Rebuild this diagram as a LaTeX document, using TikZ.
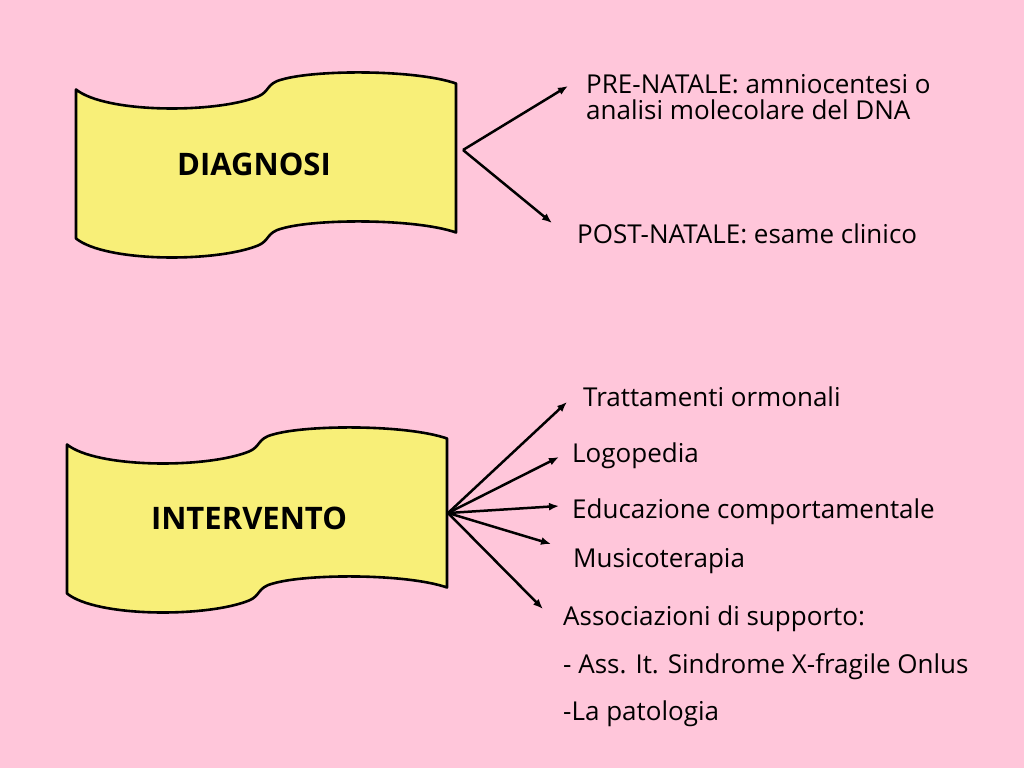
\documentclass[tikz,border=0pt]{standalone}
\usepackage{fontspec}
\setmainfont{Open Sans}
\usepackage{xcolor}
\definecolor{slidepink}{HTML}{FFC6DA}
\definecolor{banneryellow}{HTML}{F8EF78}
\usetikzlibrary{arrows.meta,positioning}

\begin{document}
\begin{tikzpicture}[x=1pt,y=-1pt,
      bannerline/.style={draw, line width=2.6pt, fill=banneryellow, line join=round},
      wavebanner/.pic={
        \path[bannerline] (-190,-72) .. controls (-160,-48) and (-50,-48) .. (-8,-65)
          .. controls (4,-70) and (0,-78) .. (16,-82)
          .. controls (50,-92) and (150,-92) .. (190,-78) -- (190,71)
          .. controls (150,57) and (50,57) .. (16,67)
          .. controls (0,71) and (4,79) .. (-8,84)
          .. controls (-50,101) and (-160,101) .. (-190,77) -- cycle;
      },
      title/.style={anchor=base, inner sep=0pt, font=\fontsize{31}{34}\selectfont\bfseries},
      lbl/.style={anchor=base west, inner sep=0pt, align=left, font=\fontsize{26}{26}\selectfont},
      arr/.style={line width=2.5pt, -{Latex[length=10pt,width=8pt]}}
    ]
    \fill[slidepink] (0,0) rectangle (1024,768);
    \useasboundingbox (0,0) rectangle (1024,768);
    % upper banner
    \pic at (266,161.5) {wavebanner};
    \node[title] (diag) at (254,175) {DIAGNOSI};
    \node[lbl] (pre) at (586,119) {PRE-NATALE: amniocentesi o\\analisi molecolare del DNA};
    \node[lbl] (post) at (577,243) {POST-NATALE: esame clinico};
    \coordinate (dsplit) at (463,150);
    \coordinate (pretip) at (568,86);
    \coordinate (posttip) at (552,223);
    \draw[arr] (dsplit) -- (pretip);
    \draw[arr] (dsplit) -- (posttip);
    % lower banner
    \pic at (257,516.5) {wavebanner};
    \node[title] (interv) at (249,529) {INTERVENTO};
    \node[lbl] (tratt) at (583,406) {Trattamenti ormonali};
    \node[lbl] (logo) at (572,462) {Logopedia};
    \node[lbl] (educ) at (572,518) {Educazione comportamentale};
    \node[lbl] (music) at (573,567) {Musicoterapia};
    \node[lbl] (assoc) at (563,625) {Associazioni di supporto:};
    \node[lbl] (xfrag) at (563,673) {- Ass. It. Sindrome X-fragile Onlus};
    \node[lbl] (patol) at (563,720) {-La patologia};
    \coordinate (isplit) at (448,513);
    \coordinate (t1) at (567,402);
    \coordinate (t2) at (559,457);
    \coordinate (t3) at (559,506);
    \coordinate (t4) at (551,544);
    \coordinate (t5) at (543,609);
    \foreach \t in {t1,t2,t3,t4,t5}
      \draw[arr] (isplit) -- (\t);
  \end{tikzpicture}
\end{document}
